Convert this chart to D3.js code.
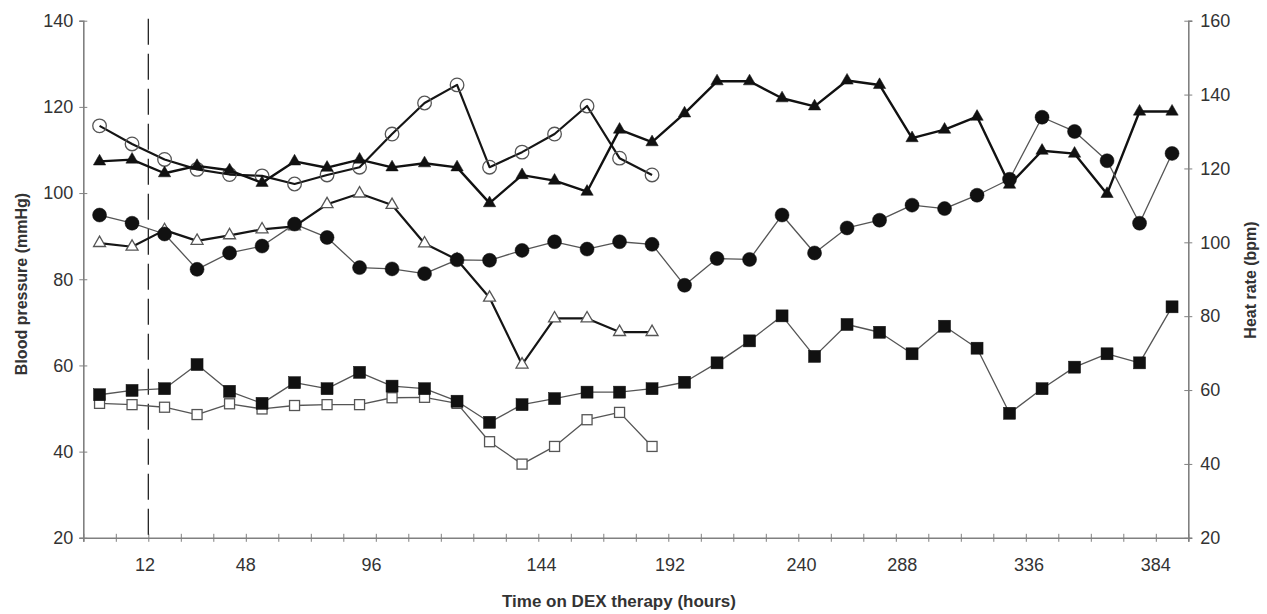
<!DOCTYPE html>
<html>
<head>
<meta charset="utf-8">
<script src="https://cdn.jsdelivr.net/npm/d3@7"></script>
<style>
body { margin: 0; background: #fff; }
text { font-family: "Liberation Sans", Arial, sans-serif; }
</style>
</head>
<body>
<div id="chart"></div>
<script>
// 34 sampling slots on the category axis
var nSlots = 34;

// x tick labels (hours) and the slot boundary each one sits under
var tickLabels = ["12", "48", "96", "144", "192", "240", "288", "336", "384"];
var tickAt = [1.9, 5.0, 8.87, 14.1, 18.05, 22.1, 25.2, 29.1, 33.0];
var doseMark = 2; // dashed line, 12 h

var leftTicks = [20, 40, 60, 80, 100, 120, 140];
var rightTicks = [20, 40, 60, 80, 100, 120, 140, 160];

// blood pressure (mmHg)
var circleOpen = [115.6, 111.4, 107.8, 105.5, 104.3, 104.0, 102.1, 104.2, 106.0, 113.7,
    120.9, 125.1, 106.0, 109.5, 113.7, 120.2, 108.1, 104.2];
var circleFilled = [94.9, 93.0, 90.5, 82.3, 86.1, 87.7, 92.8, 89.7, 82.7, 82.4,
    81.3, 84.5, 84.4, 86.7, 88.7, 87.0, 88.7, 88.1, 78.6, 84.8,
    84.6, 94.9, 86.1, 91.9, 93.7, 97.2, 96.4, 99.5, 103.2, 117.6,
    114.3, 107.5, 93.0, 109.2];
var squareOpen = [51.2, 50.9, 50.3, 48.6, 51.1, 49.9, 50.7, 50.9, 50.9, 52.5,
    52.6, 51.2, 42.3, 37.1, 41.2, 47.4, 49.1, 41.2];
var squareFilled = [53.2, 54.2, 54.6, 60.2, 54.0, 51.2, 56.0, 54.6, 58.4, 55.2,
    54.6, 51.7, 46.8, 50.9, 52.3, 53.8, 53.8, 54.6, 56.1, 60.6,
    65.7, 71.5, 62.1, 69.5, 67.7, 62.7, 69.1, 64.0, 48.9, 54.6,
    59.6, 62.7, 60.6, 73.6];

// heart rate (bpm)
var triOpen = [99.8, 98.8, 103.3, 100.4, 101.9, 103.5, 104.3, 110.3, 113.2, 110.1,
    99.7, 95.3, 85.0, 66.9, 79.4, 79.4, 75.7, 75.7];
var triFilled = [121.9, 122.4, 118.7, 120.7, 119.5, 116.1, 121.9, 120.2, 122.4, 120.3,
    121.4, 120.3, 110.6, 118.2, 116.7, 113.7, 130.5, 127.1, 134.9, 143.6,
    143.6, 139.0, 136.8, 143.8, 142.6, 128.2, 130.5, 134.0, 115.6, 124.8,
    124.0, 113.1, 135.4, 135.4];

var W = 1267, H = 614;
var plot = { left: 83.3, right: 1188.3, top: 20.7, bottom: 537.8 };
var axisGrey = "#808080";

var svg = d3.select("#chart")
    .append("svg")
    .attr("width", W)
    .attr("height", H);

svg.append("rect").attr("width", W).attr("height", H).attr("fill", "#fff");

var x = d3.scaleLinear().domain([0, nSlots]).range([plot.left, plot.right]);
var yL = d3.scaleLinear().domain([20, 140]).range([plot.bottom, plot.top]);
var yR = d3.scaleLinear().domain([20, 160]).range([plot.bottom, plot.top]);

// ---- axes
var gL = svg.append("g")
    .attr("transform", "translate(" + plot.left + ",0)")
    .call(d3.axisLeft(yL).tickValues(leftTicks).tickSize(4).tickPadding(6));
var gR = svg.append("g")
    .attr("transform", "translate(" + plot.right + ",0)")
    .call(d3.axisRight(yR).tickValues(rightTicks).tickSize(4).tickPadding(8));
var gX = svg.append("g")
    .attr("transform", "translate(0," + plot.bottom + ")")
    .call(d3.axisBottom(x).tickValues(d3.range(nSlots + 1)).tickSize(4).tickFormat(""));

[gL, gR, gX].forEach(function (g) {
    g.select(".domain").attr("stroke", axisGrey).attr("stroke-width", 1.6);
    g.selectAll(".tick line").attr("stroke", axisGrey).attr("stroke-width", 1);
    g.selectAll(".tick text").attr("fill", "#333").attr("font-size", 18)
        .attr("font-family", "Liberation Sans, Arial, sans-serif");
});
// ticks cross the axis line
gL.selectAll(".tick line").attr("x1", 4);
gR.selectAll(".tick line").attr("x1", -4);
gX.selectAll(".tick line").attr("y1", -4);

svg.append("g")
    .selectAll("text")
    .data(tickLabels)
    .enter()
    .append("text")
    .attr("x", function (d, i) { return x(tickAt[i]); })
    .attr("y", plot.bottom + 33)
    .attr("text-anchor", "middle")
    .attr("font-size", 18)
    .attr("fill", "#333")
    .text(function (d) { return d; });

// dashed marker line
svg.append("line")
    .attr("x1", x(doseMark)).attr("x2", x(doseMark))
    .attr("y1", plot.top - 2).attr("y2", plot.bottom - 1)
    .attr("stroke", "#111")
    .attr("stroke-width", 1.2)
    .attr("stroke-dasharray", "26,9");

// ---- axis titles
svg.append("text")
    .attr("transform", "translate(27,284) rotate(-90)")
    .attr("text-anchor", "middle")
    .attr("font-size", 16)
    .attr("font-weight", "bold")
    .attr("fill", "#333")
    .text("Blood pressure (mmHg)");

svg.append("text")
    .attr("transform", "translate(1256,280) rotate(-90)")
    .attr("text-anchor", "middle")
    .attr("font-size", 16)
    .attr("font-weight", "bold")
    .attr("fill", "#333")
    .text("Heat rate (bpm)");

svg.append("text")
    .attr("x", 619)
    .attr("y", 607)
    .attr("text-anchor", "middle")
    .attr("font-size", 17)
    .attr("font-weight", "bold")
    .attr("fill", "#333")
    .text("Time on DEX therapy (hours)");

// ---- series
function drawSeries(values, y, opt) {
    var line = d3.line()
        .x(function (d, i) { return x(i + 0.5); })
        .y(function (d) { return y(d); });

    svg.append("path")
        .datum(values)
        .attr("d", line)
        .attr("fill", "none")
        .attr("stroke", opt.lineColor)
        .attr("stroke-width", opt.lineWidth)
        .attr("stroke-linejoin", "round");

    var g = svg.append("g");
    var pts = g.selectAll(".m")
        .data(values)
        .enter();

    if (opt.shape === "circle") {
        pts.append("circle")
            .attr("cx", function (d, i) { return x(i + 0.5); })
            .attr("cy", function (d) { return y(d); })
            .attr("r", opt.size)
            .attr("fill", opt.fill)
            .attr("stroke", opt.stroke)
            .attr("stroke-width", opt.strokeWidth);
    } else if (opt.shape === "square") {
        pts.append("rect")
            .attr("x", function (d, i) { return x(i + 0.5) - opt.size / 2; })
            .attr("y", function (d) { return y(d) - opt.size / 2; })
            .attr("width", opt.size)
            .attr("height", opt.size)
            .attr("fill", opt.fill)
            .attr("stroke", opt.stroke)
            .attr("stroke-width", opt.strokeWidth);
    } else {
        pts.append("path")
            .attr("d", d3.symbol().type(d3.symbolTriangle).size(opt.size))
            .attr("transform", function (d, i) {
                return "translate(" + x(i + 0.5) + "," + y(d) + ")";
            })
            .attr("fill", opt.fill)
            .attr("stroke", opt.stroke)
            .attr("stroke-width", opt.strokeWidth);
    }
}

drawSeries(squareOpen, yL, {
    shape: "square", size: 10, fill: "#fff", stroke: "#555", strokeWidth: 1.3,
    lineColor: "#555", lineWidth: 1.3
});
drawSeries(squareFilled, yL, {
    shape: "square", size: 12, fill: "#111", stroke: "#111", strokeWidth: 0.5,
    lineColor: "#555", lineWidth: 1.3
});
drawSeries(triOpen, yR, {
    shape: "triangle", size: 62, fill: "#fff", stroke: "#555", strokeWidth: 1.3,
    lineColor: "#151515", lineWidth: 2.2
});
drawSeries(circleOpen, yL, {
    shape: "circle", size: 6.8, fill: "none", stroke: "#555", strokeWidth: 1.3,
    lineColor: "#151515", lineWidth: 2.2
});
drawSeries(triFilled, yR, {
    shape: "triangle", size: 66, fill: "#111", stroke: "#111", strokeWidth: 0.5,
    lineColor: "#111", lineWidth: 2.4
});
drawSeries(circleFilled, yL, {
    shape: "circle", size: 7, fill: "#111", stroke: "#111", strokeWidth: 0.5,
    lineColor: "#555", lineWidth: 1.3
});
</script>
</body>
</html>
